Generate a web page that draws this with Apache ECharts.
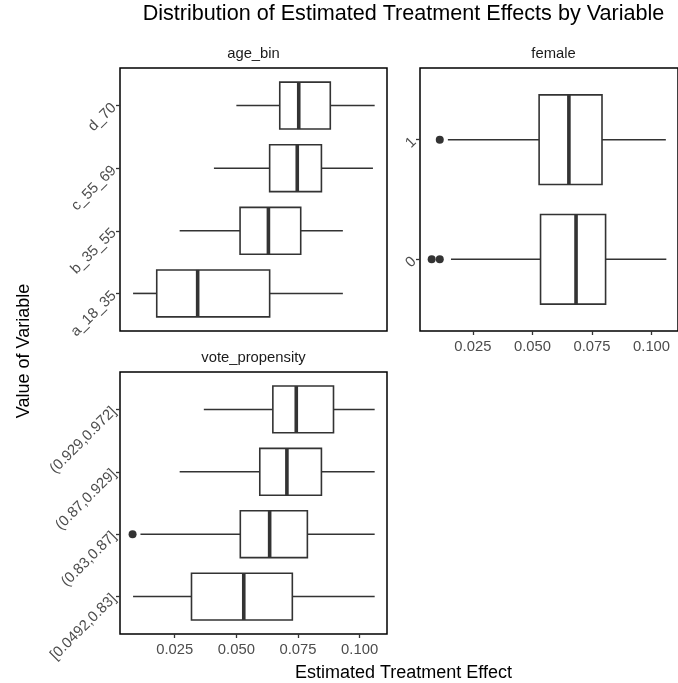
<!DOCTYPE html>
<html><head><meta charset="utf-8">
<script src="https://cdn.jsdelivr.net/npm/echarts@6/dist/echarts.min.js"></script>
<style>html,body{margin:0;padding:0;background:#fff}#c{width:678px;height:683px}</style>
</head><body><div id="c"></div>
<script>
// ---- data ----
const ageCats = ['a_18_35', 'b_35_55', 'c_55_69', 'd_70'];
const ageLow  = [0.0081, 0.0270, 0.0409, 0.0500];
const ageQ1   = [0.0177, 0.0515, 0.0635, 0.0676];
const ageMed  = [0.0343, 0.0630, 0.0747, 0.0753];
const ageQ3   = [0.0635, 0.0761, 0.0845, 0.0881];
const ageHigh = [0.0932, 0.0932, 0.1054, 0.1061];

const femaleCats = ['0', '1'];
const femaleLow  = [0.0158, 0.0145];
const femaleQ1   = [0.0534, 0.0528];
const femaleMed  = [0.0683, 0.0653];
const femaleQ3   = [0.0807, 0.0792];
const femaleHigh = [0.1062, 0.1060];
const femaleOutlierCat = ['0', '0', '1'];
const femaleOutlierVal = [0.0077, 0.0111, 0.0111];

const voteCats = ['[0.0492,0.83]', '(0.83,0.87]', '(0.87,0.929]', '(0.929,0.972]'];
const voteLow  = [0.0081, 0.0111, 0.0270, 0.0368];
const voteQ1   = [0.0318, 0.0516, 0.0595, 0.0648];
const voteMed  = [0.0530, 0.0635, 0.0705, 0.0743];
const voteQ3   = [0.0727, 0.0788, 0.0845, 0.0894];
const voteHigh = [0.1061, 0.1061, 0.1061, 0.1061];
const voteOutlierCat = ['(0.83,0.87]'];
const voteOutlierVal = [0.0079];

const xTicks = [0.025, 0.050, 0.075, 0.100];
const panelTitles = ['age_bin', 'female', 'vote_propensity'];
const mainTitle = 'Distribution of Estimated Treatment Effects by Variable';
const xTitle = 'Estimated Treatment Effect';
const yTitle = 'Value of Variable';

// ---- chart ----
const FONT = '"Liberation Sans", Arial, Helvetica, sans-serif';
const X_MIN = 0.0028, X_MAX = 0.1111;
const STROKE = '#333333';
const TICK_FS = 14.8;

function boxRows(lo, q1, med, q3, hi) {
  return lo.map((v, i) => [i + 1, lo[i], q1[i], med[i], q3[i], hi[i]]);
}
function outlierRows(cats, oc, ov) {
  return oc.map((c, i) => [ov[i], cats.indexOf(c) + 1]);
}
function renderBox(params, api) {
  const y = api.value(0);
  const pLo = api.coord([api.value(1), y]);
  const pQ1 = api.coord([api.value(2), y]);
  const pMed = api.coord([api.value(3), y]);
  const pQ3 = api.coord([api.value(4), y]);
  const pHi = api.coord([api.value(5), y]);
  const h = api.size([0, 0.75])[1];
  return {
    type: 'group',
    children: [
      { type: 'line', shape: { x1: pLo[0], y1: pLo[1], x2: pQ1[0], y2: pQ1[1] }, style: { stroke: STROKE, lineWidth: 1.6 } },
      { type: 'line', shape: { x1: pQ3[0], y1: pQ3[1], x2: pHi[0], y2: pHi[1] }, style: { stroke: STROKE, lineWidth: 1.6 } },
      { type: 'rect', shape: { x: pQ1[0], y: pQ1[1] - h / 2, width: pQ3[0] - pQ1[0], height: h }, style: { fill: '#ffffff', stroke: STROKE, lineWidth: 1.6 } },
      { type: 'line', shape: { x1: pMed[0], y1: pMed[1] - h / 2, x2: pMed[0], y2: pMed[1] + h / 2 }, style: { stroke: STROKE, lineWidth: 3.6 } }
    ]
  };
}
function xAxisFor(gridIndex, show) {
  return {
    type: 'value', gridIndex, min: X_MIN, max: X_MAX,
    splitLine: { show: false }, axisLine: { show: false },
    axisTick: { show: show, customValues: xTicks, length: 4, lineStyle: { color: STROKE, width: 1.3 } },
    axisLabel: { show: show, customValues: xTicks, formatter: v => v.toFixed(3), color: '#4D4D4D', fontSize: TICK_FS, fontFamily: FONT, margin: 8 }
  };
}
function yAxisFor(gridIndex, cats) {
  const pos = cats.map((c, i) => i + 1);
  return {
    type: 'value', gridIndex, min: 0.4, max: cats.length + 0.6,
    splitLine: { show: false }, axisLine: { show: false },
    axisTick: { show: true, customValues: pos, length: 4, lineStyle: { color: STROKE, width: 1.3 } },
    axisLabel: { show: true, customValues: pos, rotate: 45, formatter: v => cats[Math.round(v) - 1] || '', color: '#4D4D4D', fontSize: TICK_FS, fontFamily: FONT, margin: 6 }
  };
}
const gridStyle = { show: true, borderColor: '#000000', borderWidth: 1.5, backgroundColor: 'transparent', containLabel: false };

const chart = echarts.init(document.getElementById('c'), null, { renderer: 'canvas' });
chart.setOption({
  animation: false,
  backgroundColor: '#ffffff',
  grid: [
    Object.assign({ left: 120, top: 68, width: 267, height: 263 }, gridStyle),
    Object.assign({ left: 420, top: 68, width: 267, height: 263 }, gridStyle),
    Object.assign({ left: 120, top: 372, width: 267, height: 262 }, gridStyle)
  ],
  xAxis: [xAxisFor(0, false), xAxisFor(1, true), xAxisFor(2, true)],
  yAxis: [yAxisFor(0, ageCats), yAxisFor(1, femaleCats), yAxisFor(2, voteCats)],
  series: [
    { type: 'custom', xAxisIndex: 0, yAxisIndex: 0, renderItem: renderBox, encode: { x: [1, 2, 3, 4, 5], y: 0 },
      data: boxRows(ageLow, ageQ1, ageMed, ageQ3, ageHigh) },
    { type: 'custom', xAxisIndex: 1, yAxisIndex: 1, renderItem: renderBox, encode: { x: [1, 2, 3, 4, 5], y: 0 },
      data: boxRows(femaleLow, femaleQ1, femaleMed, femaleQ3, femaleHigh) },
    { type: 'custom', xAxisIndex: 2, yAxisIndex: 2, renderItem: renderBox, encode: { x: [1, 2, 3, 4, 5], y: 0 },
      data: boxRows(voteLow, voteQ1, voteMed, voteQ3, voteHigh) },
    { type: 'scatter', xAxisIndex: 1, yAxisIndex: 1, symbolSize: 8, itemStyle: { color: STROKE, opacity: 1 },
      data: outlierRows(femaleCats, femaleOutlierCat, femaleOutlierVal) },
    { type: 'scatter', xAxisIndex: 2, yAxisIndex: 2, symbolSize: 8, itemStyle: { color: STROKE, opacity: 1 },
      data: outlierRows(voteCats, voteOutlierCat, voteOutlierVal) }
  ],
  graphic: [
    { type: 'text', x: 403.5, y: 14, style: { text: mainTitle, font: '21.6px ' + FONT, fill: '#000000', align: 'center', verticalAlign: 'middle' } },
    { type: 'text', x: 253.5, y: 54, style: { text: panelTitles[0], font: TICK_FS + 'px ' + FONT, fill: '#1A1A1A', align: 'center', verticalAlign: 'middle' } },
    { type: 'text', x: 553.5, y: 54, style: { text: panelTitles[1], font: TICK_FS + 'px ' + FONT, fill: '#1A1A1A', align: 'center', verticalAlign: 'middle' } },
    { type: 'text', x: 253.5, y: 358, style: { text: panelTitles[2], font: TICK_FS + 'px ' + FONT, fill: '#1A1A1A', align: 'center', verticalAlign: 'middle' } },
    { type: 'text', x: 403.5, y: 673, style: { text: xTitle, font: '18px ' + FONT, fill: '#000000', align: 'center', verticalAlign: 'middle' } },
    { type: 'text', x: 24, y: 351, rotation: Math.PI / 2, style: { text: yTitle, font: '18px ' + FONT, fill: '#000000', align: 'center', verticalAlign: 'middle' } }
  ]
});
</script>
</body></html>
